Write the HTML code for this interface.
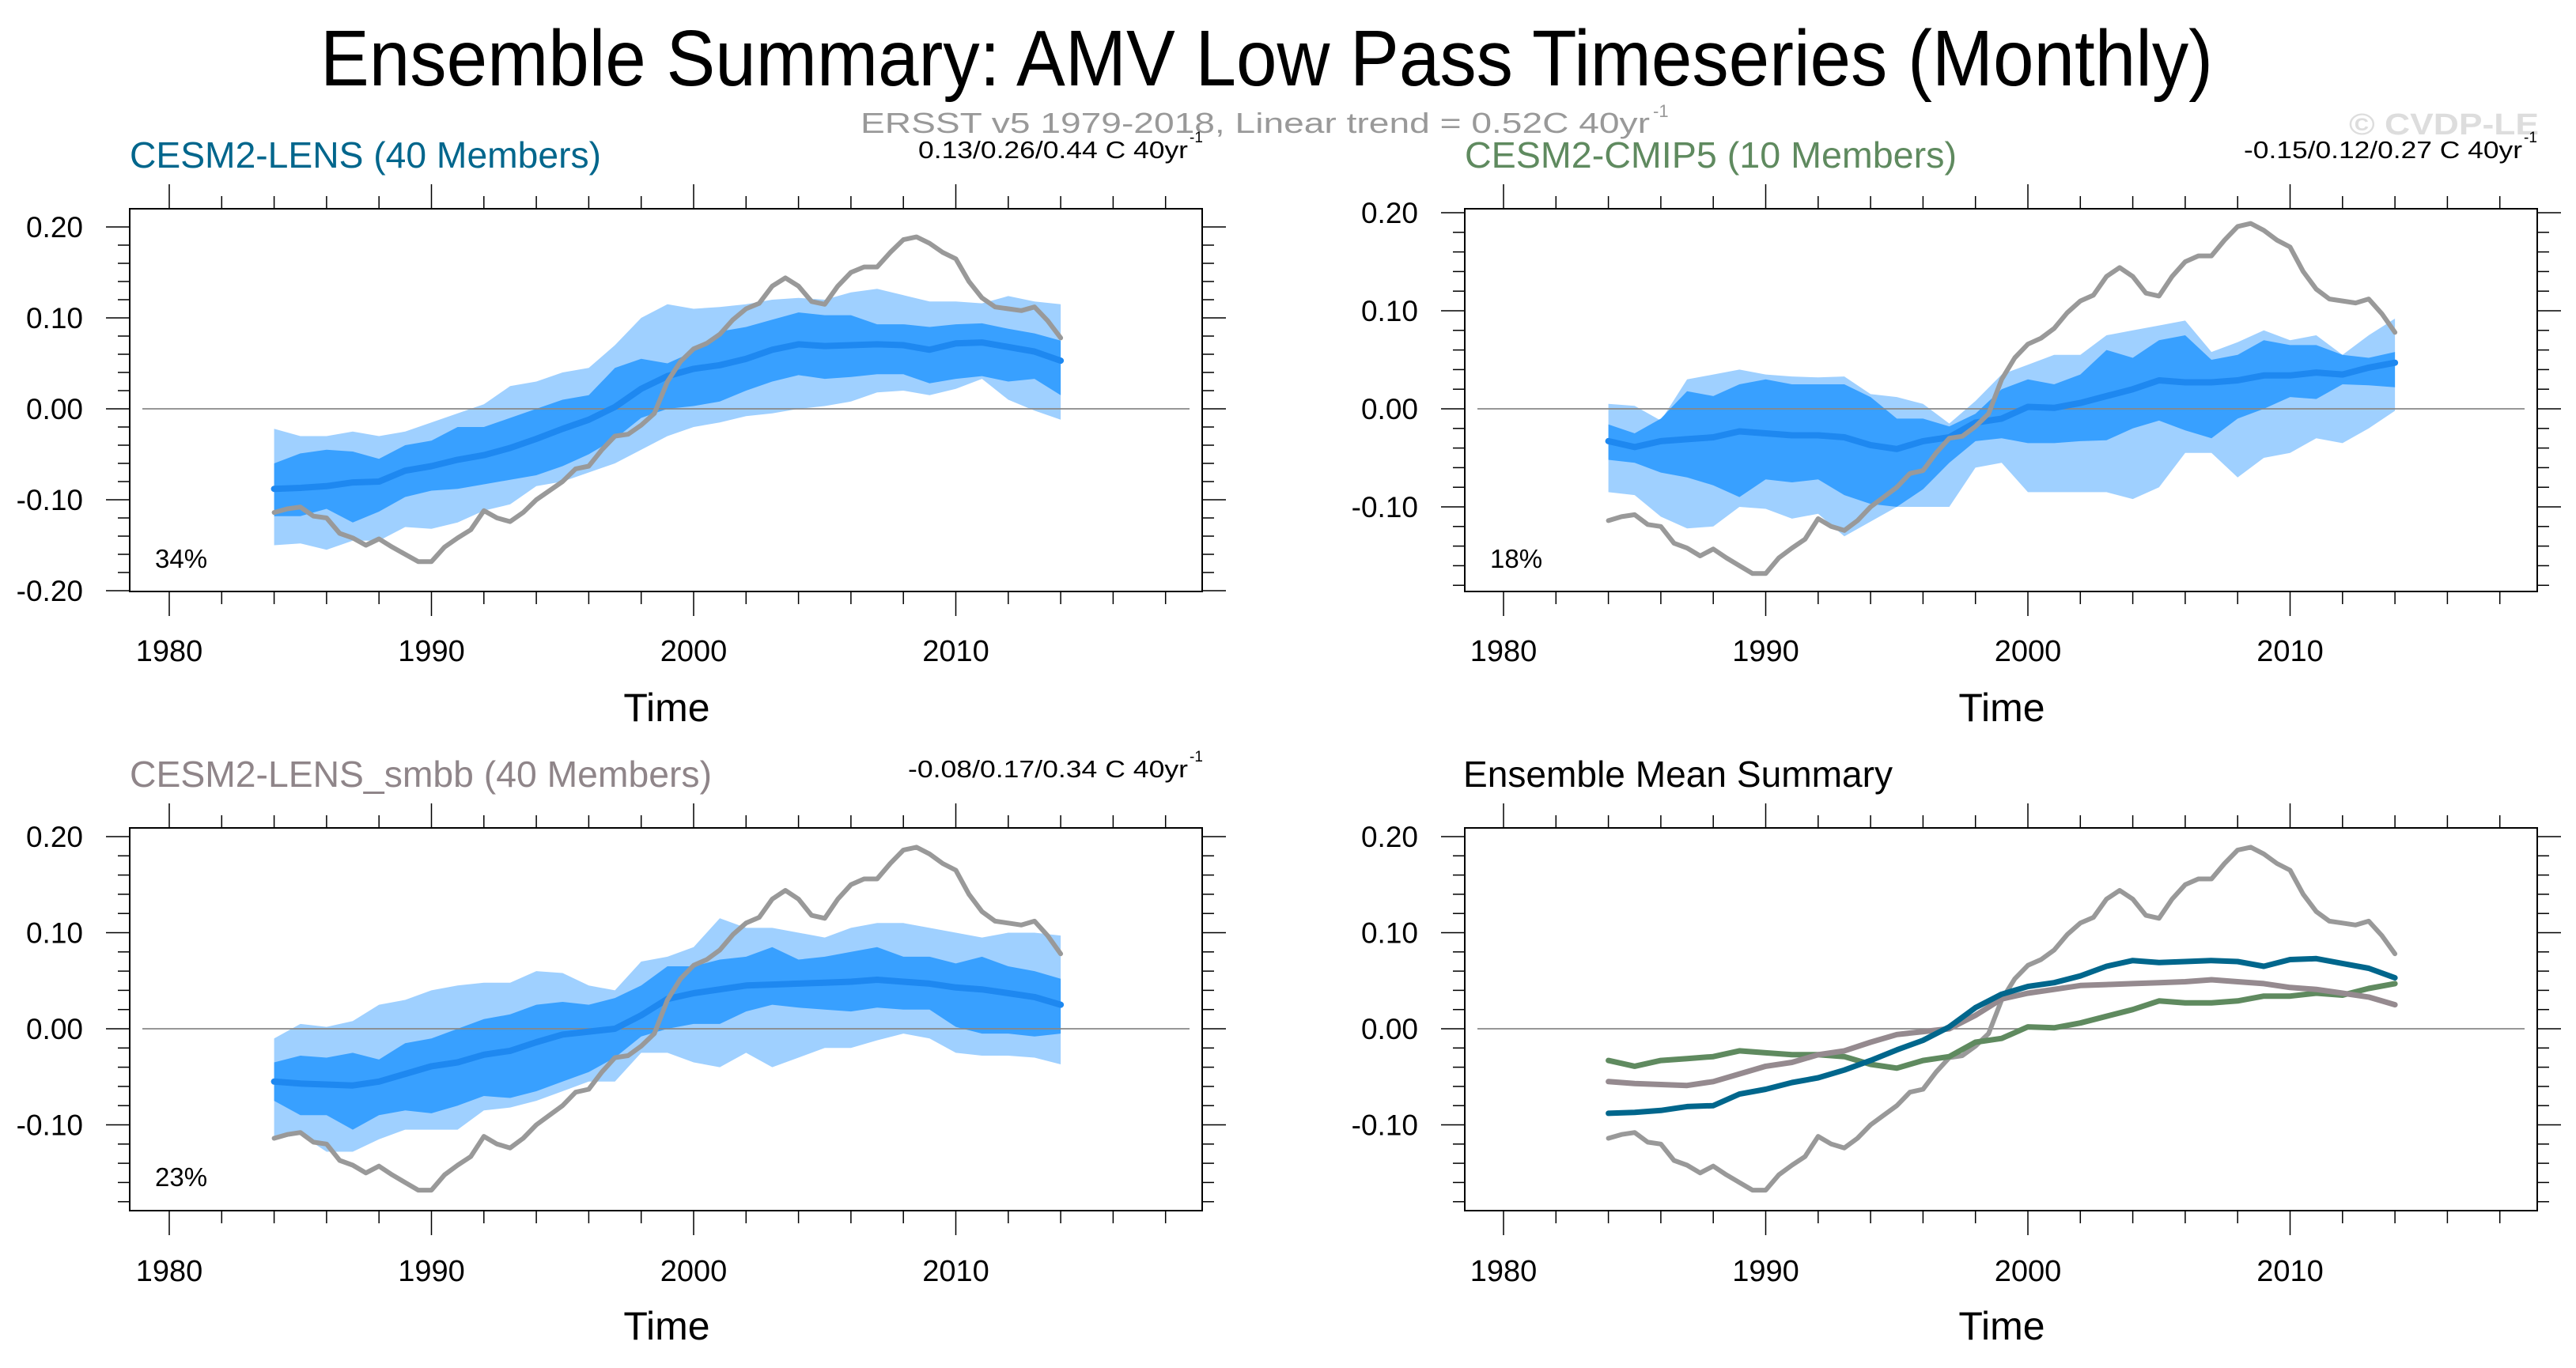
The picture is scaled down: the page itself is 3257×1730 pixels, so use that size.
<!DOCTYPE html>
<html><head><meta charset="utf-8"><style>
html,body{margin:0;padding:0;background:#fff;}
svg{display:block;font-family:"Liberation Sans",sans-serif;}
</style></head><body>
<svg id="fig" width="3257" height="1730" viewBox="0 0 3257 1730" xmlns="http://www.w3.org/2000/svg">
<rect width="3257" height="1730" fill="#fff"/>
<text x="405" y="108" font-size="100" textLength="2393" lengthAdjust="spacingAndGlyphs">Ensemble Summary: AMV Low Pass Timeseries (Monthly)</text>
<text x="1088" y="168" font-size="36" fill="#999" textLength="998" lengthAdjust="spacingAndGlyphs">ERSST v5 1979-2018, Linear trend = 0.52C 40yr</text>
<text x="2090" y="148" font-size="22" fill="#999">-1</text>
<text x="2970" y="170" font-size="38" font-weight="bold" fill="#ddd" textLength="240" lengthAdjust="spacingAndGlyphs">© CVDP-LE</text>
<g id="panels"></g>
</svg>
<script>
// ===== data (yearly 1984..2014) =====
const years = [1984,1985,1986,1987,1988,1989,1990,1991,1992,1993,1994,1995,1996,1997,1998,1999,2000,2001,2002,2003,2004,2005,2006,2007,2008,2009,2010,2011,2012,2013,2014];
const obsYears = [];
for (let y = 1984; y <= 2014.001; y += 0.5) obsYears.push(y);
const obsVals = [-0.114,-0.110,-0.108,-0.118,-0.120,-0.137,-0.142,-0.150,-0.143,-0.152,-0.160,-0.168,-0.168,-0.152,-0.142,-0.133,-0.112,-0.120,-0.124,-0.114,-0.100,-0.090,-0.080,-0.066,-0.063,-0.045,-0.030,-0.028,-0.018,-0.005,0.030,0.052,0.066,0.072,0.082,0.098,0.110,0.116,0.135,0.144,0.135,0.118,0.115,0.135,0.150,0.156,0.156,0.172,0.186,0.189,0.182,0.172,0.165,0.140,0.122,0.112,0.110,0.108,0.112,0.097,0.078];

const lensMean = [-0.088,-0.087,-0.085,-0.081,-0.080,-0.068,-0.063,-0.056,-0.051,-0.043,-0.033,-0.022,-0.012,0.002,0.022,0.036,0.044,0.048,0.055,0.065,0.071,0.069,0.070,0.071,0.070,0.065,0.072,0.073,0.068,0.063,0.053];
const lensDarkHi = [-0.060,-0.049,-0.045,-0.047,-0.055,-0.040,-0.035,-0.020,-0.020,-0.010,0.000,0.010,0.015,0.045,0.055,0.050,0.063,0.085,0.090,0.098,0.106,0.103,0.103,0.093,0.093,0.090,0.093,0.094,0.088,0.083,0.075];
const lensDarkLo = [-0.118,-0.118,-0.110,-0.125,-0.113,-0.097,-0.090,-0.088,-0.083,-0.078,-0.073,-0.063,-0.050,-0.033,-0.010,0.000,0.003,0.008,0.020,0.030,0.037,0.033,0.035,0.038,0.038,0.028,0.033,0.036,0.030,0.033,0.015];
const lensLightHi = [-0.022,-0.030,-0.030,-0.025,-0.030,-0.025,-0.015,-0.005,0.005,0.025,0.030,0.040,0.045,0.070,0.100,0.115,0.110,0.112,0.115,0.120,0.122,0.120,0.128,0.132,0.125,0.118,0.118,0.116,0.124,0.118,0.115];
const lensLightLo = [-0.150,-0.148,-0.155,-0.145,-0.145,-0.130,-0.132,-0.125,-0.112,-0.105,-0.085,-0.080,-0.070,-0.060,-0.045,-0.030,-0.020,-0.015,-0.008,-0.005,0.000,0.003,0.008,0.018,0.020,0.015,0.022,0.033,0.010,-0.002,-0.012];

const cmipMean = [-0.033,-0.039,-0.033,-0.031,-0.029,-0.023,-0.025,-0.027,-0.027,-0.029,-0.037,-0.041,-0.033,-0.029,-0.014,-0.010,0.002,0.001,0.006,0.013,0.020,0.029,0.027,0.027,0.029,0.034,0.034,0.037,0.035,0.042,0.047];
const cmipDarkHi = [-0.016,-0.025,-0.010,0.018,0.013,0.025,0.030,0.025,0.025,0.025,0.012,-0.010,-0.010,-0.018,-0.005,0.020,0.030,0.025,0.035,0.060,0.052,0.070,0.075,0.050,0.055,0.070,0.065,0.065,0.055,0.052,0.058];
const cmipDarkLo = [-0.052,-0.055,-0.065,-0.070,-0.078,-0.090,-0.072,-0.075,-0.072,-0.088,-0.097,-0.100,-0.082,-0.055,-0.033,-0.030,-0.035,-0.035,-0.033,-0.032,-0.020,-0.012,-0.022,-0.030,-0.010,0.000,0.012,0.010,0.025,0.024,0.022];
const cmipLightHi = [0.005,0.003,-0.012,0.030,0.035,0.040,0.035,0.033,0.032,0.033,0.015,0.012,0.005,-0.015,0.008,0.035,0.045,0.055,0.055,0.075,0.080,0.085,0.090,0.058,0.068,0.080,0.070,0.075,0.055,0.075,0.092];
const cmipLightLo = [-0.085,-0.088,-0.110,-0.122,-0.120,-0.100,-0.102,-0.112,-0.107,-0.130,-0.115,-0.100,-0.100,-0.100,-0.060,-0.055,-0.085,-0.085,-0.085,-0.085,-0.092,-0.080,-0.045,-0.045,-0.070,-0.050,-0.045,-0.030,-0.035,-0.020,-0.002];

const smbbMean = [-0.055,-0.057,-0.058,-0.059,-0.055,-0.047,-0.039,-0.035,-0.027,-0.023,-0.014,-0.006,-0.003,0.000,0.014,0.031,0.037,0.041,0.045,0.046,0.047,0.048,0.049,0.051,0.049,0.047,0.043,0.041,0.037,0.033,0.025];
const smbbDarkHi = [-0.035,-0.028,-0.030,-0.025,-0.032,-0.015,-0.010,0.000,0.010,0.015,0.025,0.028,0.025,0.032,0.045,0.065,0.065,0.072,0.075,0.085,0.072,0.075,0.080,0.085,0.075,0.075,0.068,0.075,0.065,0.060,0.052];
const smbbDarkLo = [-0.075,-0.090,-0.090,-0.105,-0.090,-0.085,-0.088,-0.080,-0.070,-0.072,-0.065,-0.055,-0.045,-0.030,-0.008,0.000,0.005,0.005,0.018,0.025,0.022,0.020,0.018,0.022,0.020,0.020,0.002,-0.005,-0.005,-0.008,-0.005];
const smbbLightHi = [-0.010,0.005,0.002,0.008,0.025,0.030,0.040,0.045,0.048,0.048,0.060,0.058,0.045,0.040,0.070,0.075,0.085,0.115,0.105,0.105,0.100,0.095,0.105,0.110,0.110,0.105,0.100,0.095,0.100,0.100,0.097];
const smbbLightLo = [-0.115,-0.110,-0.128,-0.128,-0.115,-0.105,-0.105,-0.105,-0.085,-0.082,-0.075,-0.065,-0.055,-0.055,-0.025,-0.025,-0.035,-0.040,-0.025,-0.040,-0.030,-0.020,-0.020,-0.012,-0.005,-0.010,-0.025,-0.028,-0.028,-0.030,-0.037];

const yTickLabelsA = ["0.20","0.10","0.00","-0.10","-0.20"];
const yTickValsA = [0.2,0.1,0,-0.1,-0.2];
const yTickLabelsB = ["0.20","0.10","0.00","-0.10"];
const yTickValsB = [0.2,0.1,0,-0.1];
const xTickLabels = ["1980","1990","2000","2010"];
const xTickVals = [1980,1990,2000,2010];

// ===== drawing =====
const NS = "http://www.w3.org/2000/svg";
const root = document.getElementById("panels");
function el(tag, attrs, parent){ const e=document.createElementNS(NS,tag); for(const k in attrs) e.setAttribute(k,attrs[k]); (parent||root).appendChild(e); return e; }

function panel(cfg){
  const g = el("g",{});
  
  
  const X = yr => cfg.x1980 + (yr-1980)*33.15;
  const Y = v => cfg.zeroY - v*cfg.ppu;
  const {bx0,bx1,by0,by1} = cfg;
  for (let yr=1980; yr<=2018; yr+=2){
    const maj = yr%10===0, x=X(yr), L = maj?31:16;
    const t1 = el("line",{x1:x,x2:x,y1:by0-L,y2:by0,stroke:"#000","stroke-width":1.5},g);
    
    
    const t2 = el("line",{x1:x,x2:x,y1:by1,y2:by1+L,stroke:"#000","stroke-width":1.5},g);
    
    
  }
  for (let k=-20;k<=20;k+=2){
    const v=k/100, y=Y(v);
    if (y<by0-1||y>by1+1) continue;
    const maj = k%10===0, L = maj?30:15;
    const t1 = el("line",{x1:bx0-L,x2:bx0,y1:y,y2:y,stroke:"#000","stroke-width":1.5},g);
    
    
    const t2 = el("line",{x1:bx1,x2:bx1+L,y1:y,y2:y,stroke:"#000","stroke-width":1.5},g);
    
    
  }
  cfg.yVals.forEach((v,i)=>{
    const t = el("text",{x:bx0-59,y:Y(v)+13,"font-size":37,"text-anchor":"end"},g);
    
    
    t.textContent = cfg.yLabels[i];
  });
  xTickVals.forEach((v,i)=>{
    const t = el("text",{x:X(v),y:cfg.yearY,"font-size":38,"text-anchor":"middle"},g);
    
    
    t.textContent = xTickLabels[i];
  });
  const xt = el("text",{x:bx0+679,y:cfg.timeY,"font-size":50,"text-anchor":"middle"},g);
  
  
  xt.textContent = "Time";
  const tt = el("text",{x:cfg.titleX,y:cfg.titleY,"font-size":46,fill:cfg.titleColor,textLength:cfg.titleLen,lengthAdjust:"spacingAndGlyphs"},g);
  
  
  tt.textContent = cfg.title;
  if (cfg.trend){
    const tr = el("text",{x:cfg.trendX,y:cfg.titleY-12,"font-size":31,textLength:cfg.trendLen,lengthAdjust:"spacingAndGlyphs"},g);
    
    
    tr.textContent = cfg.trend;
    const sp = el("text",{x:cfg.trendX+cfg.trendLen+2,y:cfg.titleY-32,"font-size":19},g);
    
    
    sp.textContent = "-1";
  }
  const pts = (xs,vs)=>vs.map((v,i)=>X(xs[i]).toFixed(1)+","+Y(v).toFixed(1));
  if (cfg.bands){
    const b=cfg.bands;
    const lp = el("polygon",{points:pts(years,b.lightHi).concat(pts(years,b.lightLo).reverse()).join(" "),fill:"#9fd0ff"},g);
    
    
    const dp = el("polygon",{points:pts(years,b.darkHi).concat(pts(years,b.darkLo).reverse()).join(" "),fill:"#38a0ff"},g);
    
    
  }
  const zl = el("line",{x1:bx0+16,x2:bx1-16,y1:Y(0),y2:Y(0),stroke:"#888","stroke-width":1.8},g);
  
  
  cfg.lines.forEach(L=>{
    const p = el("polyline",{points:pts(years,L.vals).join(" "),fill:"none",stroke:L.color,"stroke-width":L.w,"stroke-linejoin":"round","stroke-linecap":"round"},g);
    
    
  });
  const ob = el("polyline",{points:pts(obsYears,obsVals).join(" "),fill:"none",stroke:"#999","stroke-width":6,"stroke-linejoin":"round","stroke-linecap":"round"},g);
  
  
  if (cfg.afterObs) cfg.afterObs.forEach(L=>{
    const p = el("polyline",{points:pts(years,L.vals).join(" "),fill:"none",stroke:L.color,"stroke-width":L.w,"stroke-linejoin":"round","stroke-linecap":"round"},g);
    
    
  });
  if (cfg.pct){
    const pc = el("text",{x:bx0+32,y:cfg.pctY,"font-size":33},g);
    
    
    pc.textContent = cfg.pct;
  }
  const box = el("rect",{x:bx0,y:by0,width:bx1-bx0,height:by1-by0,fill:"none",stroke:"#000","stroke-width":2},g);
  
  
}

panel({name:"panel-cesm2-lens",x1980:214,zeroY:517,ppu:1150,bx0:164,bx1:1520,by0:264,by1:748,yVals:yTickValsA,yLabels:yTickLabelsA,
  yearY:836,timeY:912,title:"CESM2-LENS (40 Members)",titleX:164,titleY:212,titleLen:596,titleColor:"#00668c",
  trend:"0.13/0.26/0.44 C 40yr",trendX:1161,trendLen:341,pct:"34%",pctY:718,
  bands:{lightHi:lensLightHi,lightLo:lensLightLo,darkHi:lensDarkHi,darkLo:lensDarkLo},
  lines:[{name:"ensemble-mean-line",vals:lensMean,color:"#1e88f0",w:8}]});
panel({name:"panel-cesm2-cmip5",x1980:1901,zeroY:517,ppu:1240,bx0:1852,bx1:3208,by0:264,by1:748,yVals:yTickValsB,yLabels:yTickLabelsB,
  yearY:836,timeY:912,title:"CESM2-CMIP5 (10 Members)",titleX:1852,titleY:212,titleLen:622,titleColor:"#5f8a5f",
  trend:"-0.15/0.12/0.27 C 40yr",trendX:2837,trendLen:352,pct:"18%",pctY:718,
  bands:{lightHi:cmipLightHi,lightLo:cmipLightLo,darkHi:cmipDarkHi,darkLo:cmipDarkLo},
  lines:[{name:"ensemble-mean-line",vals:cmipMean,color:"#1e88f0",w:8}]});
panel({name:"panel-cesm2-lens-smbb",x1980:214,zeroY:1301,ppu:1215,bx0:164,bx1:1520,by0:1047,by1:1531,yVals:yTickValsB,yLabels:yTickLabelsB,
  yearY:1620,timeY:1694,title:"CESM2-LENS_smbb (40 Members)",titleX:164,titleY:995,titleLen:736,titleColor:"#8f8589",
  trend:"-0.08/0.17/0.34 C 40yr",trendX:1148,trendLen:354,pct:"23%",pctY:1500,
  bands:{lightHi:smbbLightHi,lightLo:smbbLightLo,darkHi:smbbDarkHi,darkLo:smbbDarkLo},
  lines:[{name:"ensemble-mean-line",vals:smbbMean,color:"#1e88f0",w:8}]});
panel({name:"panel-ensemble-mean-summary",x1980:1901,zeroY:1301,ppu:1215,bx0:1852,bx1:3208,by0:1047,by1:1531,yVals:yTickValsB,yLabels:yTickLabelsB,
  yearY:1620,timeY:1694,title:"Ensemble Mean Summary",titleX:1850,titleY:995,titleLen:543,titleColor:"#000",
  lines:[],
  afterObs:[{name:"cmip5-mean-line",vals:cmipMean,color:"#5f8a5f",w:7},
            {name:"smbb-mean-line",vals:smbbMean,color:"#958a8f",w:7},
            {name:"lens-mean-line",vals:lensMean,color:"#00668c",w:7}]});
</script>
</body></html>
